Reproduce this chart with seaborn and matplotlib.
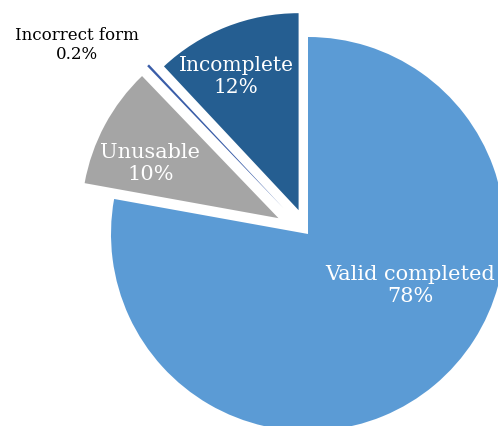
import matplotlib
matplotlib.use("Agg")
import matplotlib.pyplot as plt
import seaborn as sns

sns.set_theme(style="white")
plt.rcParams["font.family"] = ["DejaVu Serif"]

# data
categories = ["Valid completed", "Unusable", "Incorrect form", "Incomplete"]
shares = [78, 10, 0.2, 12]
pct_labels = ["78%", "10%", "0.2%", "12%"]

colors = ["#5B9BD5", "#A5A5A5", "#3A5DA8", "#255E91"]
explode = [0, 0.17, 0.18, 0.13]

fig = plt.figure(figsize=(4.98, 4.26), dpi=100)
ax = fig.add_axes([0, 0, 1, 1])

wedges, _ = ax.pie(
    shares, colors=colors, explode=explode, startangle=90,
    counterclock=False, wedgeprops=dict(linewidth=0),
)

# label layout (data units, radius = 1)
label_pos = [(0.518, -0.26), (-0.80, 0.36), (-1.173, 0.96), (-0.365, 0.80)]
label_color = ["white", "white", "black", "white"]
label_size = [15, 15, 12, 14.5]
for cat, pct, pos, c, s in zip(categories, pct_labels, label_pos, label_color, label_size):
    ax.text(pos[0], pos[1], f"{cat}\n{pct}", ha="center", va="center",
            color=c, fontsize=s, linespacing=1.2)

ax.set_aspect("auto")
ax.set_xlim(-308 / 197, (498 - 308) / 197)
ax.set_ylim(-192 / 197, (426 - 192) / 197)
ax.axis("off")

fig.savefig("out.png", dpi=100)
